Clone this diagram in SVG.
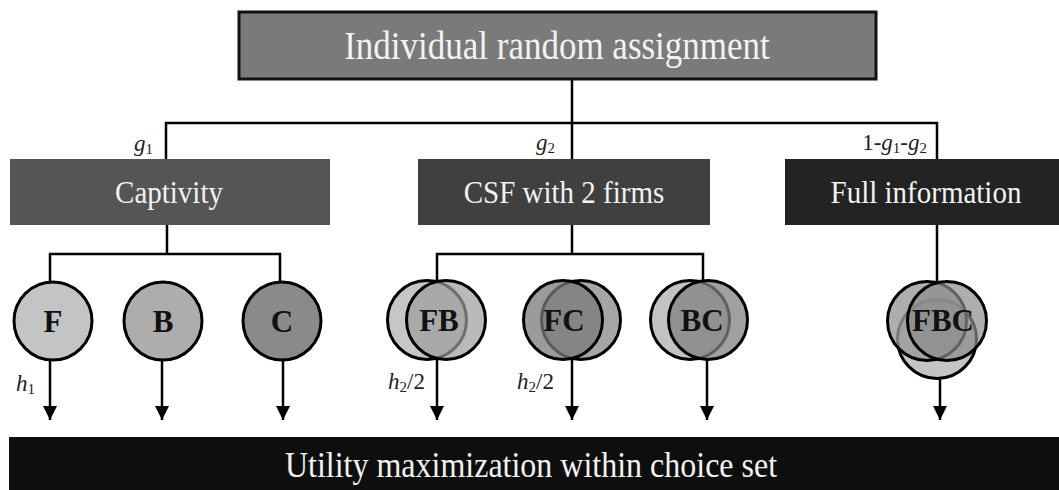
<svg xmlns="http://www.w3.org/2000/svg" width="1059" height="490" viewBox="0 0 1059 490">
<defs>
<style>
.box{stroke:none}
.bt{font-family:"Liberation Serif","Times New Roman",serif;fill:#f2f2f2;text-anchor:middle}
.ct{font-family:"Liberation Serif","Times New Roman",serif;font-weight:bold;fill:#111;text-anchor:middle;font-size:31px}
.lb{font-family:"Liberation Serif","Times New Roman",serif;fill:#222;font-size:23px}
.sub{font-size:15px;font-style:normal}
.ln{fill:none;stroke:#000;stroke-width:2.5}
.cs{stroke:#000;stroke-width:3}
</style>
<marker id="ah" viewBox="0 0 14 14" refX="14" refY="7" markerWidth="14" markerHeight="14" markerUnits="userSpaceOnUse" orient="auto">
<path d="M0,0 L14,7 L0,14 z" fill="#000"/>
</marker>
</defs>
<rect width="1059" height="490" fill="#fff"/>

<g id="connectors">
<path class="ln" d="M572,79 V225"/>
<path class="ln" d="M166,159 V123 H937 V159"/>
<path class="ln" d="M167,225 V254"/>
<path class="ln" d="M50,283 V254 H280 V283"/>
<path class="ln" d="M572,225 V254"/>
<path class="ln" d="M437,281 V254 H703 V281"/>
<path class="ln" d="M937,225 V283"/>
<line class="ln" x1="50" y1="359" x2="50" y2="420" marker-end="url(#ah)"/>
<line class="ln" x1="162" y1="359" x2="162" y2="420" marker-end="url(#ah)"/>
<line class="ln" x1="283" y1="359" x2="283" y2="420" marker-end="url(#ah)"/>
<line class="ln" x1="437" y1="359" x2="437" y2="420" marker-end="url(#ah)"/>
<line class="ln" x1="572" y1="359" x2="572" y2="420" marker-end="url(#ah)"/>
<line class="ln" x1="707" y1="359" x2="707" y2="420" marker-end="url(#ah)"/>
<line class="ln" x1="940" y1="379" x2="940" y2="420" marker-end="url(#ah)"/>
</g>

<g id="labels">
<text class="lb" x="153" y="151" text-anchor="end"><tspan font-style="italic">g</tspan><tspan class="sub" dy="3">1</tspan></text>
<text class="lb" x="555" y="150" text-anchor="end"><tspan font-style="italic">g</tspan><tspan class="sub" dy="3">2</tspan></text>
<text class="lb" x="927" y="150" text-anchor="end">1-<tspan font-style="italic">g</tspan><tspan class="sub" dy="3">1</tspan><tspan dy="-3">-</tspan><tspan font-style="italic">g</tspan><tspan class="sub" dy="3">2</tspan></text>
<text class="lb" x="16" y="391"><tspan font-style="italic">h</tspan><tspan class="sub" dy="3">1</tspan></text>
<text class="lb" x="388" y="389"><tspan font-style="italic">h</tspan><tspan class="sub" dy="3">2</tspan><tspan dy="-3">/2</tspan></text>
<text class="lb" x="517" y="389"><tspan font-style="italic">h</tspan><tspan class="sub" dy="3">2</tspan><tspan dy="-3">/2</tspan></text>
</g>

<g id="node-top">
<rect x="239" y="12" width="637" height="67" fill="#7a7a7a" stroke="#111" stroke-width="3"/>
<text class="bt" font-size="35" transform="translate(557,59) scale(1,1.12)">Individual random assignment</text>
</g>
<g id="node-captivity">
<rect class="box" x="10" y="159" width="320" height="66" fill="#555555"/>
<text class="bt" font-size="29" transform="translate(169,203) scale(1,1.1)">Captivity</text>
</g>
<g id="node-csf">
<rect class="box" x="418" y="159" width="292" height="66" fill="#404040"/>
<text class="bt" font-size="29" transform="translate(564,203) scale(1,1.1)">CSF with 2 firms</text>
</g>
<g id="node-full">
<rect class="box" x="785" y="159" width="274" height="66" fill="#232323"/>
<text class="bt" font-size="29" transform="translate(926,203) scale(1,1.1)">Full information</text>
</g>

<g id="node-F">
<circle class="cs" cx="53" cy="321" r="39" fill="#c4c4c4"/>
<text class="ct" x="53" y="332">F</text>
</g>
<g id="node-B">
<circle class="cs" cx="163" cy="321" r="39" fill="#adadad"/>
<text class="ct" x="163" y="332">B</text>
</g>
<g id="node-C">
<circle class="cs" cx="282" cy="321" r="39" fill="#8a8a8a"/>
<text class="ct" x="282" y="332">C</text>
</g>

<g id="node-FB">
<circle class="cs" cx="427" cy="320" r="39.5" fill="#c6c6c6"/>
<circle class="cs" cx="446" cy="320" r="39.5" fill="#9c9c9c" fill-opacity="0.7"/>
<text class="ct" x="439" y="331">FB</text>
</g>
<g id="node-FC">
<circle class="cs" cx="581" cy="320" r="39.5" fill="#a6a6a6"/>
<circle class="cs" cx="563" cy="320" r="39.5" fill="#7a7a7a" fill-opacity="0.75"/>
<text class="ct" x="564" y="331">FC</text>
</g>
<g id="node-BC">
<circle class="cs" cx="690" cy="320" r="39.5" fill="#c2c2c2"/>
<circle class="cs" cx="708" cy="320" r="39.5" fill="#808080" fill-opacity="0.75"/>
<text class="ct" x="702" y="331">BC</text>
</g>
<g id="node-FBC">
<circle class="cs" cx="937" cy="339" r="39.5" fill="#c4c4c4"/>
<circle class="cs" cx="927" cy="321" r="39.5" fill="#9a9a9a" fill-opacity="0.8"/>
<circle class="cs" cx="947" cy="321" r="39.5" fill="#8c8c8c" fill-opacity="0.7"/>
<text class="ct" x="943" y="331" font-size="27">FBC</text>
</g>

<g id="node-bottom">
<rect class="box" x="9" y="437" width="1050" height="53" fill="#0e0e0e"/>
<text class="bt" font-size="32" transform="translate(531,477) scale(1,1.15)">Utility maximization within choice set</text>
</g>
</svg>
